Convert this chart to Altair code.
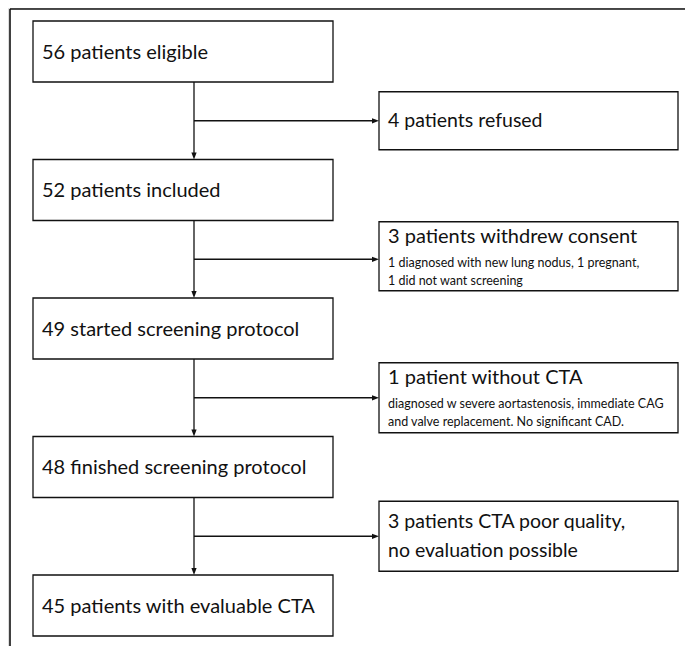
import altair as alt
import pandas as pd

# ---- content ----
main_labels = [
    "56 patients eligible",
    "52 patients included",
    "49 started screening protocol",
    "48 finished screening protocol",
    "45 patients with evaluable CTA",
]
side_headers = [
    ["4 patients refused"],
    ["3 patients withdrew consent"],
    ["1 patient without CTA"],
    ["3 patients CTA poor quality,", "no evaluation possible"],
]
side_details = [
    [],
    ["1 diagnosed with new lung nodus, 1 pregnant,", "1 did not want screening"],
    ["diagnosed w severe aortastenosis, immediate CAG", "and valve replacement. No significant CAD."],
    [],
]

# ---- layout (pixel coordinate system of the figure) ----
FONT = "Lato"
INK = "#111111"
MAIN_X0, MAIN_X1 = 33, 333
SIDE_X0, SIDE_X1 = 379, 678
STEM_X = 194
ROW0, ROW_GAP, MAIN_H = 21, 138.5, 61
side_heights = [58, 69, 70, 70]
side_shift = [0, -3, 0, 0]

main_rows = []
for i, lab in enumerate(main_labels):
    top = ROW0 + ROW_GAP * i
    main_rows.append(dict(x=MAIN_X0, x2=MAIN_X1, y=top, y2=top + MAIN_H,
                          tx=MAIN_X0 + 9, ty=top + MAIN_H / 2 + 1, label=lab))
main_df = pd.DataFrame(main_rows)

side_rows, side_text, rules, heads = [], [], [], []
for i in range(len(side_headers)):
    bottom = ROW0 + ROW_GAP * i + MAIN_H
    next_top = ROW0 + ROW_GAP * (i + 1)
    by = (bottom + next_top) / 2
    h = side_heights[i]
    top = by - h / 2 + side_shift[i]
    side_rows.append(dict(x=SIDE_X0, x2=SIDE_X1, y=top, y2=top + h))
    # vertical stem and horizontal branch
    rules.append(dict(x=STEM_X, x2=STEM_X, y=bottom, y2=next_top - 4))
    rules.append(dict(x=STEM_X, x2=SIDE_X0 - 4, y=by, y2=by))
    heads.append(dict(x=STEM_X, y=next_top - 3.5, shape="down"))
    heads.append(dict(x=SIDE_X0 - 3.5, y=by, shape="right"))
    hdr = side_headers[i]
    det = side_details[i]
    if det:
        side_text.append(dict(tx=SIDE_X0 + 9, ty=top + 15, label=hdr[0], size=20))
        for j, d in enumerate(det):
            side_text.append(dict(tx=SIDE_X0 + 9, ty=top + 41 + 18.5 * j, label=d, size=12.5))
    else:
        n = len(hdr)
        for j, t in enumerate(hdr):
            side_text.append(dict(tx=SIDE_X0 + 9, ty=top + h / 2 + (j - (n - 1) / 2) * 29,
                                  label=t, size=19.5))

side_df = pd.DataFrame(side_rows)
side_text_df = pd.DataFrame(side_text)
rules_df = pd.DataFrame(rules)
heads_df = pd.DataFrame(heads)
frame_df = pd.DataFrame([
    dict(x=10, x2=685, y=9, y2=9),
    dict(x=10, x2=10, y=9, y2=646),
])

W, H = 677, 638
xs = alt.Scale(domain=[8, 8 + W], nice=False, zero=False)
ys = alt.Scale(domain=[8, 8 + H], nice=False, zero=False, reverse=True)

def X(f="x"):
    return alt.X(f, type="quantitative", scale=xs, axis=None)

def Y(f="y"):
    return alt.Y(f, type="quantitative", scale=ys, axis=None)

frame = alt.Chart(frame_df).mark_rule(color=INK, strokeWidth=1.6).encode(
    x=X(), x2="x2", y=Y(), y2="y2")
lines = alt.Chart(rules_df).mark_rule(color=INK, strokeWidth=1.3).encode(
    x=X(), x2="x2", y=Y(), y2="y2")
down = alt.Chart(heads_df[heads_df["shape"] == "down"]).mark_point(
    shape="M-0.75,-1L0.75,-1L0,1Z", filled=True, color=INK, opacity=1, size=49, strokeWidth=0
).encode(x=X(), y=Y())
right = alt.Chart(heads_df[heads_df["shape"] == "right"]).mark_point(
    shape="M-1,-0.75L-1,0.75L1,0Z", filled=True, color=INK, opacity=1, size=49, strokeWidth=0
).encode(x=X(), y=Y())
main_boxes = alt.Chart(main_df).mark_rect(fill="white", stroke=INK, strokeWidth=1.3).encode(
    x=X(), x2="x2", y=Y(), y2="y2")
main_txt = alt.Chart(main_df).mark_text(
    align="left", baseline="middle", font=FONT, fontSize=20, color=INK
).encode(x=X("tx"), y=Y("ty"), text="label")
side_boxes = alt.Chart(side_df).mark_rect(fill="white", stroke=INK, strokeWidth=1.3).encode(
    x=X(), x2="x2", y=Y(), y2="y2")
side_txt = alt.Chart(side_text_df).mark_text(
    align="left", baseline="middle", font=FONT, color=INK
).encode(x=X("tx"), y=Y("ty"), text="label",
         size=alt.Size("size:Q", scale=None, legend=None))

chart = alt.layer(frame, lines, down, right, main_boxes, main_txt, side_boxes, side_txt).properties(
    width=W, height=H, padding=0, autosize=alt.AutoSizeParams(type="none")
).configure_view(stroke=None).configure(background="white")

chart.save("out.html", embed_options={"renderer": "svg", "actions": False})
